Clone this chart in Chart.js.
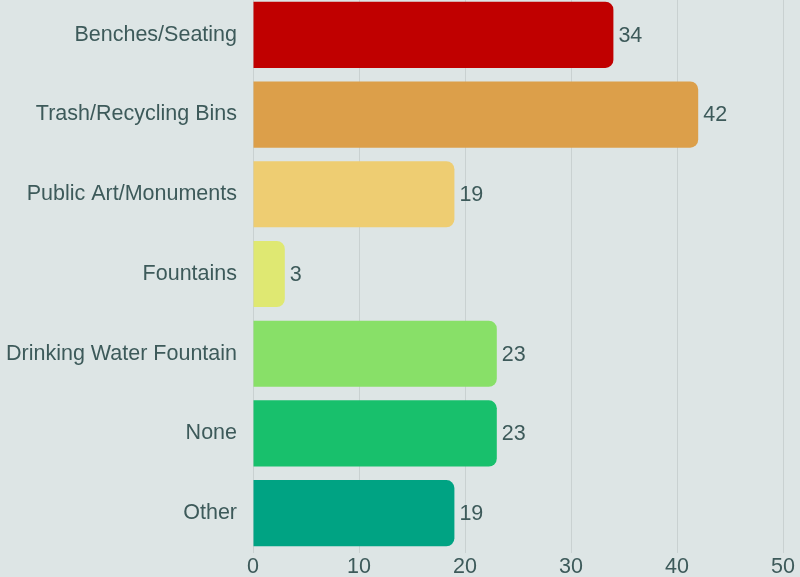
<!DOCTYPE html>
<html><head><meta charset="utf-8">
<script src="https://cdn.jsdelivr.net/npm/chart.js@4.4.0/dist/chart.umd.min.js"></script>
<style>
html,body{margin:0;padding:0;background:#dde5e5;overflow:hidden;}
#wrap{position:absolute;left:0;top:-5px;width:800px;height:582px;}
</style></head>
<body><div id="wrap"><canvas id="c" width="800" height="582"></canvas></div>
<script>
const categories = ["Benches/Seating","Trash/Recycling Bins","Public Art/Monuments","Fountains","Drinking Water Fountain","None","Other"];
const counts = [34,42,19,3,23,23,19];
const barColors = ["#c00000","#dc9f4a","#eecd72","#dfe872","#88e068","#18c06c","#00a383"];
const xTicks = [0,10,20,30,40,50];
const textColor = "#3d5a5a";
const fontFamily = "'Liberation Sans', Arial, sans-serif";
const fontSize = 21.5;

const valueLabels = {
  id:'valueLabels',
  afterDatasetsDraw(chart){
    const ctx = chart.ctx;
    const meta = chart.getDatasetMeta(0);
    ctx.save();
    ctx.font = fontSize + "px " + fontFamily;
    ctx.fillStyle = textColor;
    ctx.textAlign = 'left';
    ctx.textBaseline = 'middle';
    meta.data.forEach((bar,i)=>{
      ctx.fillText(String(counts[i]), bar.x + 5, bar.y + 1);
    });
    ctx.restore();
  }
};

new Chart(document.getElementById('c'),{
  type:'bar',
  data:{labels:categories,datasets:[{data:counts,backgroundColor:barColors,borderColor:barColors,borderWidth:0,borderRadius:8,borderSkipped:'start',categoryPercentage:1,barPercentage:0.83}]},
  options:{
    indexAxis:'y',
    responsive:false,
    animation:false,
    layout:{padding:{top:0,right:17,left:0,bottom:0}},
    plugins:{legend:{display:false},tooltip:{enabled:false}},
    scales:{
      x:{min:0,max:50,
        afterBuildTicks(s){s.ticks = xTicks.map(v=>({value:v}));},
        afterFit(s){s.height=24; s.paddingTop=0; s.paddingBottom=0;},
        grid:{color:'#c9d1d1',drawTicks:false},
        border:{display:false},
        ticks:{color:textColor,font:{family:fontFamily,size:fontSize},padding:1}
      },
      y:{
        afterFit(s){s.width=253; s.paddingTop=0; s.paddingBottom=0;},
        grid:{display:false,drawTicks:false},
        border:{display:false},
        ticks:{color:textColor,font:{family:fontFamily,size:fontSize},padding:16}
      }
    }
  },
  plugins:[valueLabels]
});
</script></body></html>
